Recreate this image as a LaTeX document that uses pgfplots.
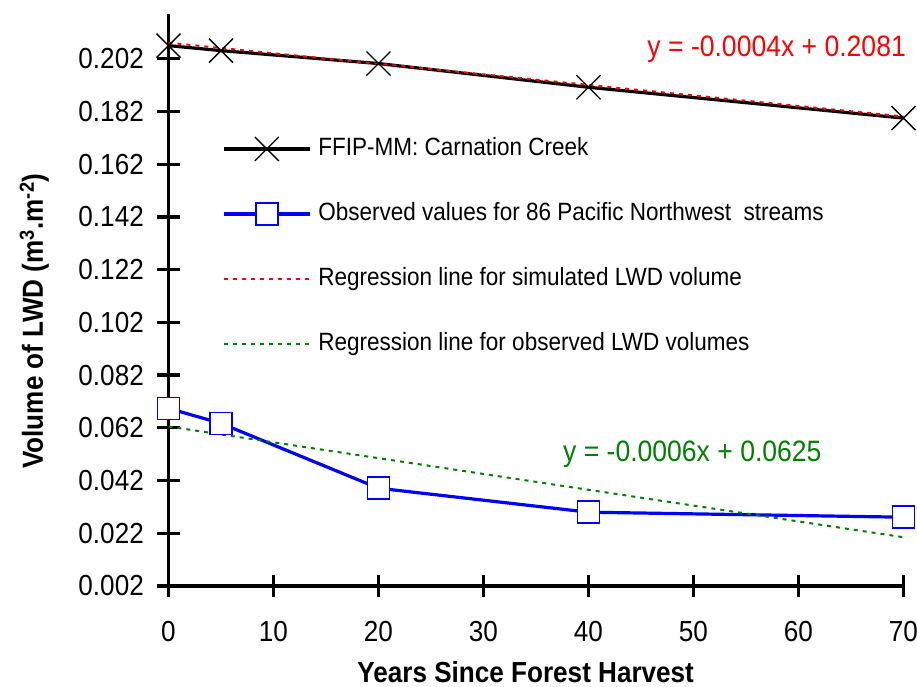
\documentclass[border=0pt]{standalone}
\usepackage{fontspec}
\setmainfont{Liberation Sans}[FakeStretch=0.9]
\usepackage{pgfplots}
\pgfplotsset{compat=1.18}
\definecolor{obsblue}{RGB}{0,0,255}
\definecolor{simred}{RGB}{255,0,0}
\definecolor{obsgreen}{RGB}{0,128,0}

\begin{document}
\begin{tikzpicture}
\begin{axis}[
  at={(0pt,0pt)}, anchor=south west,
  scale only axis,
  width=735pt, height=572pt,
  xmin=0, xmax=70, ymin=0.002, ymax=0.219,
  clip=false,
  axis x line*=bottom, axis y line*=left,
  axis line style={line width=3.3pt, black, -},
  tick align=center,
  major tick length=22pt,
  tick style={line width=3.3pt, black},
  xtick={0,10,20,30,40,50,60,70},
  xticklabels={0,10,20,30,40,50,60,70},
  ytick={0.002,0.022,0.042,0.062,0.082,0.102,0.122,0.142,0.162,0.182,0.202},
  yticklabels={0.002,0.022,0.042,0.062,0.082,0.102,0.122,0.142,0.162,0.182,0.202},
  scaled y ticks=false,
  xticklabel style={anchor=north, inner sep=0pt, yshift=-24pt,
    font=\fontsize{29}{34}\selectfont},
  yticklabel style={anchor=east, inner sep=0pt, xshift=-13.5pt,
    font=\fontsize{29}{34}\selectfont},
  xlabel={Years Since Forest Harvest},
  ylabel={Volume of LWD (m\textsuperscript{3}.m\textsuperscript{-2})},
  xlabel style={at={([yshift=-96.5pt]rel axis cs:0.486,0)}, anchor=base,
    font=\bfseries\fontsize{29}{34}\selectfont},
  ylabel style={at={([xshift=-125.5pt]rel axis cs:0,0.463)}, anchor=base,
    font=\bfseries\fontsize{29}{34}\selectfont},
  legend style={draw=none, fill=none, inner sep=0pt,
    at={(axis cs:5.1,0.1728)}, anchor=north west,
    font=\fontsize{25}{30}\selectfont,
    row sep=39pt, column sep=7pt,
    nodes={inner sep=0pt, text height=20pt, text depth=6pt}},
  legend cell align=left,
  legend image code/.code={
    \draw[mark repeat=2, mark phase=2, #1]
      plot coordinates {(0pt,0pt) (43pt,0pt) (86pt,0pt)};
  },
]
% simulated LWD volume (FFIP-MM)
\addplot[black, line width=3.2pt, mark=x, mark size=17pt,
  mark options={line width=1.3pt, solid}]
  coordinates {(0,0.2070) (5,0.2051) (20,0.2002) (40,0.1912) (70,0.1795)};
\addlegendentry{FFIP-MM: Carnation Creek}
% observed LWD volume
\addplot[obsblue, line width=3.2pt, mark=square*, mark size=11pt,
  mark options={fill=white, draw=obsblue, line width=1.5pt, solid}]
  coordinates {(0,0.0694) (5,0.0637) (20,0.0391) (40,0.0300) (70,0.0281)};
\addlegendentry{Observed values for 86 Pacific Northwest\ \ streams}
% linear fits
\addplot[simred, line width=2pt, dash pattern=on 4pt off 5pt]
  coordinates {(0,0.2081) (70,0.1801)};
\addlegendentry{Regression line for simulated LWD volume}
\addplot[obsgreen, line width=2pt, dash pattern=on 4pt off 5pt]
  coordinates {(0,0.0625) (70,0.0205)};
\addlegendentry{Regression line for observed LWD volumes}

\node[anchor=base east, text=simred, font=\fontsize{29.5}{34}\selectfont, inner sep=0pt]
  at (axis cs:70.24,0.2028) {y = -0.0004x + 0.2081};
\node[anchor=base west, text=obsgreen, font=\fontsize{29.5}{34}\selectfont, inner sep=0pt]
  at (axis cs:37.57,0.0491) {y = -0.0006x + 0.0625};
\end{axis}
\pgfresetboundingbox
\path (-168.5pt,-101pt) rectangle (748.5pt,586pt);
\end{tikzpicture}
\end{document}
